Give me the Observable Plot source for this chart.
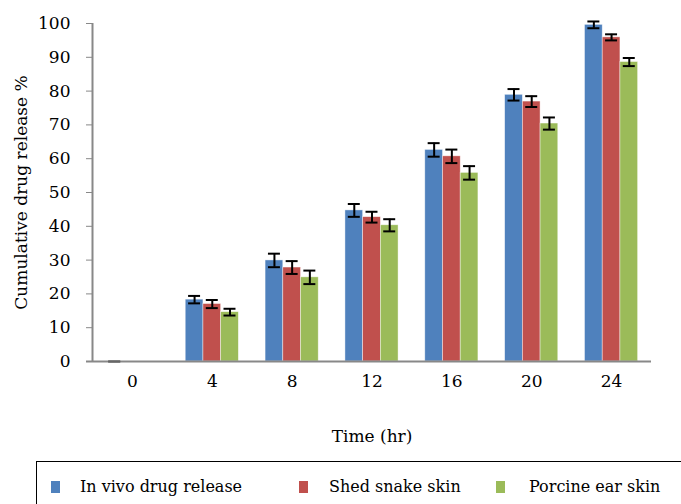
<!DOCTYPE html>
<html>
<head>
<meta charset="utf-8">
<script src="https://cdn.jsdelivr.net/npm/d3@7"></script>
<script src="https://cdn.jsdelivr.net/npm/@observablehq/plot@0.6"></script>
<style>
  html, body { margin: 0; padding: 0; background: #fff; }
  body { width: 681px; height: 504px; overflow: hidden; font-family: "DejaVu Serif", serif; }
  #legend { position: relative; margin-left: 36px; margin-top: 5px; width: 660px; height: 50px; border: 1px solid #000; box-sizing: border-box; }
  .item { position: absolute; top: 15px; font-size: 16px; line-height: 20px; color: #000; white-space: nowrap; }
  .sw { position: absolute; top: 19px; width: 9px; height: 12px; }
</style>
</head>
<body>
<div id="chart"></div>
<div id="legend"></div>
<script>
const times = [0, 4, 8, 12, 16, 20, 24];
const series = ["In vivo drug release", "Shed snake skin", "Porcine ear skin"];
const colors = ["#4F81BD", "#C0504D", "#9BBB59"];
const invivo = [0, 18.3, 29.9, 44.7, 62.6, 78.9, 99.6];
const invivoErr = [0, 1.1, 2.0, 1.9, 2.0, 1.7, 1.0];
const snake = [0, 17.0, 27.8, 42.7, 60.7, 76.9, 95.9];
const snakeErr = [0, 1.2, 1.9, 1.6, 2.0, 1.6, 0.9];
const porcine = [0, 14.6, 24.9, 40.3, 55.8, 70.4, 88.6];
const porcineErr = [0, 1.0, 2.0, 1.8, 2.0, 1.8, 1.2];
const yTicks = [0, 10, 20, 30, 40, 50, 60, 70, 80, 90, 100];

const values = [invivo, snake, porcine];
const errs = [invivoErr, snakeErr, porcineErr];
const rows = [];
series.forEach((s, i) => times.forEach((t, j) => rows.push({time: t, series: s, idx: i, value: values[i][j], err: errs[i][j]})));

const barW = 0.887;   // bar width in hours (band 4h, group ~2.66h)
const center = d => d.time + (d.idx - 1) * barW;
const capHalf = 0.3;

const errRows = rows.filter(d => d.value > 0 || d.idx === 0);

const plot = Plot.plot({
  width: 681,
  height: 456,
  marginLeft: 92,
  marginRight: 30,
  marginTop: 23,
  marginBottom: 95,
  style: {fontFamily: "'DejaVu Serif', serif", fontSize: "18px", background: "#fff", color: "#000"},
  x: {domain: [-2, 26], label: "Time (hr)", labelArrow: "none"},
  y: {domain: [0, 100], label: "Cumulative drug release %", labelArrow: "none"},
  color: {domain: series, range: colors},
  marks: [
    Plot.rectY(rows, {
      x1: d => center(d) - barW / 2,
      x2: d => center(d) + barW / 2,
      y: "value",
      fill: "series",
      stroke: "#fff",
      strokeWidth: 0.7,
      strokeOpacity: 0.6
    }),
    Plot.ruleX([-2], {stroke: "#888", strokeWidth: 2}),
    Plot.ruleY([0], {x1: -2.3, x2: 26, stroke: "#888", strokeWidth: 2}),
    Plot.ruleX(errRows, {x: center, y1: d => d.value - d.err, y2: d => d.value + d.err, stroke: "#000", strokeWidth: 2}),
    Plot.ruleY(errRows, {y: d => d.value + d.err, x1: d => center(d) - capHalf, x2: d => center(d) + capHalf, stroke: d => d.value > 0 ? "#000" : "#666", strokeWidth: 2}),
    Plot.ruleY(errRows, {y: d => d.value - d.err, x1: d => center(d) - capHalf, x2: d => center(d) + capHalf, stroke: d => d.value > 0 ? "#000" : "#666", strokeWidth: 2}),
    Plot.axisY({ticks: yTicks, tickSize: 6, tickPadding: 16, stroke: "#888", fill: "#000", label: "Cumulative drug release %", labelArrow: "none", labelAnchor: "center", labelOffset: 78, fontSize: 17}),
    Plot.axisX({ticks: times, tickSize: 0, tickPadding: 13, fill: "#000", label: "Time (hr)", labelArrow: "none", labelAnchor: "center", labelOffset: 80, fontSize: 17})
  ]
});
document.getElementById("chart").appendChild(plot);

const legend = document.getElementById("legend");
const swX = [14, 262, 459];
const txX = [43, 292, 492];
series.forEach((s, i) => {
  const sw = document.createElement("div");
  sw.className = "sw";
  sw.style.left = swX[i] + "px";
  sw.style.background = colors[i];
  legend.appendChild(sw);
  const tx = document.createElement("div");
  tx.className = "item";
  tx.style.left = txX[i] + "px";
  tx.textContent = s;
  legend.appendChild(tx);
});
</script>
</body>
</html>
